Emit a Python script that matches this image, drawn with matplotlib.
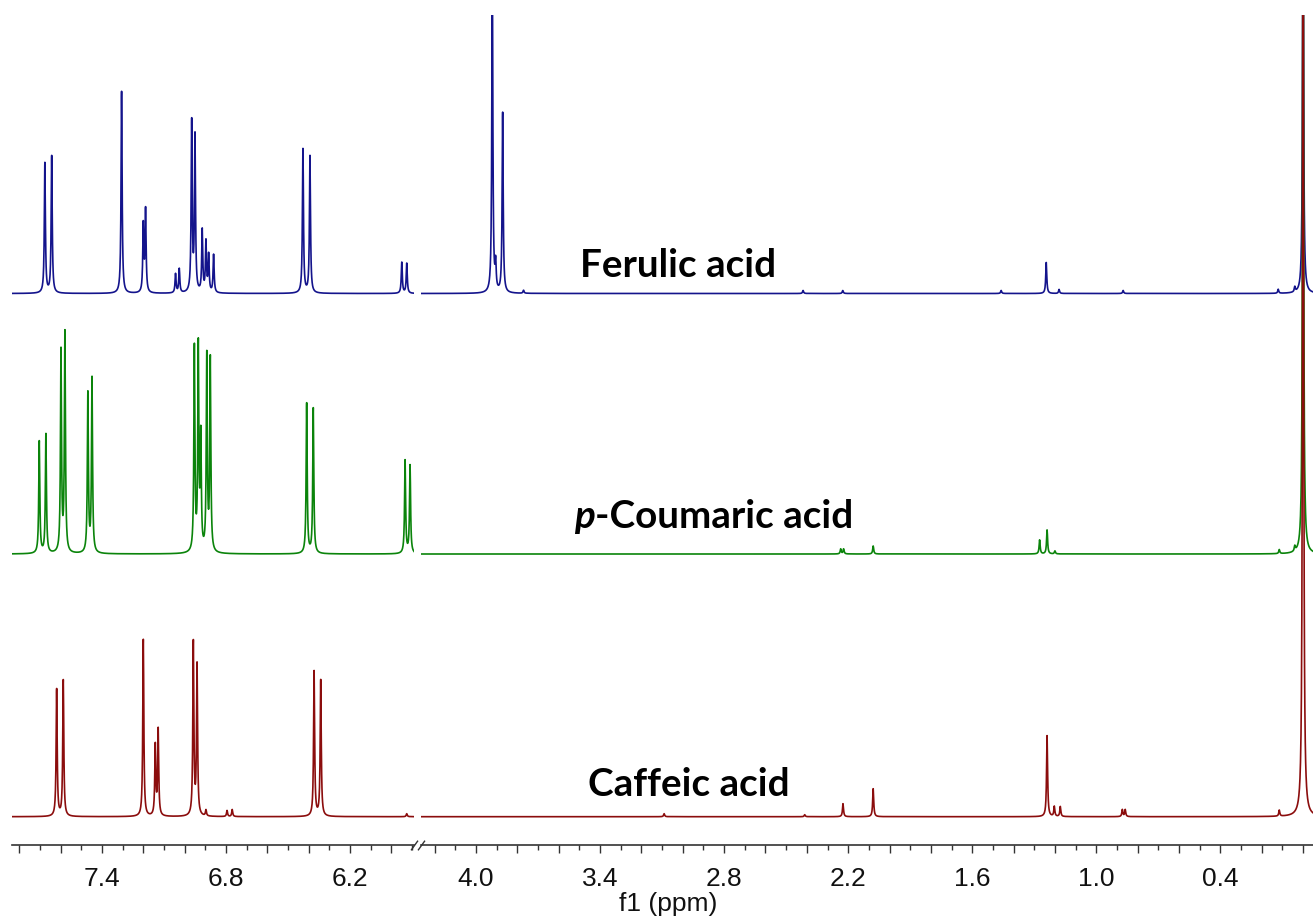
"""
Stacked 1H NMR spectra of three hydroxycinnamic acids on a broken ppm axis.
Usage: python plot.py
"""

import numpy as np
import matplotlib
matplotlib.use("Agg")
import matplotlib.pyplot as plt
from matplotlib.ticker import FixedLocator, FuncFormatter

# Configuration
OUT_PATH = "out.png"
FIG_W, FIG_H = 1313, 921          # pixels at dpi 100
LINE_HWHM = 0.003                 # ppm, half width of every line
PPM_STEP = 0.0005

# Axis layout
LEFT_RANGE = (7.835, 5.891)
RIGHT_RANGE = (4.266, -0.048)
TICK_LABELS = [7.4, 6.8, 6.2, 4.0, 3.4, 2.8, 2.2, 1.6, 1.0, 0.4]

# Ferulic acid (ppm, intensity)
FERULIC_PPM = [7.676, 7.643, 7.305, 7.200, 7.189, 7.044, 7.026, 6.966, 6.950,
               6.915, 6.897, 6.884, 6.860, 6.428, 6.394, 5.950, 5.926,
               3.921, 3.905, 3.871, 3.770, 2.418, 2.226, 1.460, 1.242, 1.180,
               0.870, 0.120, 0.040, 0.000]
FERULIC_INT = [130, 137, 202, 67, 82, 19, 24, 170, 155,
               62, 50, 37, 38, 144, 137, 31, 30,
               320, 26, 180, 3, 3, 3, 3, 31, 4,
               3, 4, 5, 420]

# p-Coumaric acid
COUMARIC_PPM = [7.703, 7.671, 7.598, 7.579, 7.468, 7.448, 6.953, 6.934, 6.922,
                6.893, 6.876, 6.410, 6.378, 5.934, 5.910,
                2.236, 2.222, 2.079, 1.274, 1.238, 1.200, 0.115, 0.040, 0.000]
COUMARIC_INT = [112, 119, 201, 219, 159, 174, 204, 203, 112,
                195, 192, 150, 145, 93, 88,
                5, 5, 8, 14, 24, 3, 4, 5, 700]

# Caffeic acid
CAFFEIC_PPM = [7.619, 7.587, 7.200, 7.142, 7.128, 6.958, 6.940, 6.897, 6.795,
               6.770, 6.374, 6.342, 5.926,
               3.090, 2.410, 2.225, 2.079, 1.238, 1.203, 1.174, 0.874, 0.860,
               0.115, 0.000]
CAFFEIC_INT = [127, 136, 177, 70, 86, 173, 150, 6, 6,
               7, 145, 136, 3,
               3, 2, 13, 28, 81, 10, 10, 7, 7,
               6, 1000]

# name, peaks, intensities, baseline offset, colour, label position (px)
SPECTRA = [
    ("Ferulic acid", FERULIC_PPM, FERULIC_INT, 551.5, "#14148c", (580, 277)),
    ("p-Coumaric acid", COUMARIC_PPM, COUMARIC_INT, 291.0, "#0b840b", (595, 528)),
    ("Caffeic acid", CAFFEIC_PPM, CAFFEIC_INT, 28.3, "#8b0d0d", (588, 796)),
]

AXIS_COLOR = "#333333"
TICK_FONT = "Liberation Sans"
NAME_FONT = "Lato"
NAME_SIZE = 27.8


def lorentzian_sum(x, centers, heights, hwhm):
    """Sum of Lorentzian lines on the ppm grid"""
    y = np.zeros_like(x)
    for c, h in zip(centers, heights):
        y += h / (1.0 + ((x - c) / hwhm) ** 2)
    return y


def style_axis(ax, xlim):
    """Bottom spine only, ticks every 0.1 ppm, labels every 0.6 ppm"""
    ax.set_xlim(*xlim)
    ax.set_ylim(0, 830)
    for side in ("top", "left", "right"):
        ax.spines[side].set_visible(False)
    ax.spines["bottom"].set_color(AXIS_COLOR)
    ax.spines["bottom"].set_linewidth(1.2)
    ax.set_yticks([])

    hi, lo = max(xlim), min(xlim)
    steps = range(int(np.ceil(lo * 10)), int(hi * 10) + 1)
    major = [v / 10 for v in steps if v % 2 == 0]
    minor = [v / 10 for v in steps if v % 2 == 1]
    ax.xaxis.set_major_locator(FixedLocator(major))
    ax.xaxis.set_minor_locator(FixedLocator(minor))
    ax.xaxis.set_major_formatter(FuncFormatter(
        lambda v, pos: f"{v:.1f}" if round(v, 1) in TICK_LABELS else ""))
    ax.tick_params(axis="x", which="major", length=6, width=1.0, color=AXIS_COLOR,
                   pad=10, labelsize=19, labelcolor="#111111")
    ax.tick_params(axis="x", which="minor", length=3.5, width=1.0, color=AXIS_COLOR)
    for lab in ax.get_xticklabels():
        lab.set_fontfamily(TICK_FONT)


def main():
    fig = plt.figure(figsize=(FIG_W / 100, FIG_H / 100), dpi=100)
    bottom = 1 - 845 / FIG_H
    height = 830 / FIG_H
    ax_l = fig.add_axes([12 / FIG_W, bottom, 402 / FIG_W, height])
    ax_r = fig.add_axes([421 / FIG_W, bottom, 892 / FIG_W, height])

    ppm = np.arange(RIGHT_RANGE[1], LEFT_RANGE[0] + PPM_STEP, PPM_STEP)
    for name, centers, heights, offset, color, _ in SPECTRA:
        y = offset + lorentzian_sum(ppm, centers, heights, LINE_HWHM)
        for ax in (ax_l, ax_r):
            ax.plot(ppm, y, color=color, lw=1.2)

    style_axis(ax_l, LEFT_RANGE)
    style_axis(ax_r, RIGHT_RANGE)

    # Break marks on the ppm axis
    kw = dict(marker=[(-1, -1.4), (1, 1.4)], markersize=7, linestyle="none",
              color=AXIS_COLOR, mec=AXIS_COLOR, mew=1.0, clip_on=False)
    ax_l.plot([1], [0], transform=ax_l.transAxes, **kw)
    ax_r.plot([0], [0], transform=ax_r.transAxes, **kw)

    # Compound names
    name_kw = dict(fontfamily=NAME_FONT, fontweight="bold", fontsize=NAME_SIZE,
                   color="black", va="baseline", ha="left")
    for name, _, _, _, _, (px, py) in SPECTRA:
        xf, yf = px / FIG_W, 1 - py / FIG_H
        if name.startswith("p-"):
            rest = fig.text(xf, yf, name[1:], **name_kw)
            ax_r.annotate("p", xy=(0, 0), xycoords=rest, ha="right", va="bottom",
                          fontfamily=NAME_FONT, fontweight="bold", fontstyle="italic",
                          fontsize=NAME_SIZE, color="black", annotation_clip=False)
        else:
            fig.text(xf, yf, name, **name_kw)

    fig.text(668 / FIG_W, 1 - 904 / FIG_H, "f1 (ppm)", ha="center", va="center",
             fontfamily=TICK_FONT, fontsize=19, color="#111111")

    fig.savefig(OUT_PATH, dpi=100)
    plt.close(fig)


if __name__ == "__main__":
    main()
